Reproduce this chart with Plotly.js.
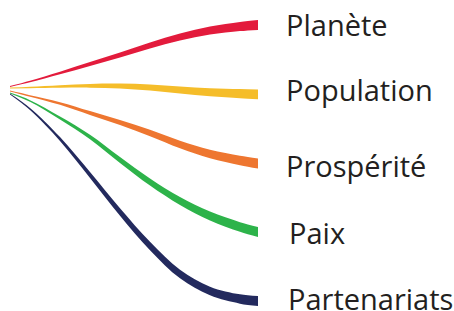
<!DOCTYPE html>
<html>
<head>
<meta charset="utf-8">
<script src="https://cdn.plot.ly/plotly-3.0.1.min.js"></script>
<style>html,body{margin:0;padding:0;background:#fff;}#chart{width:454px;height:311px;}</style>
</head>
<body>
<div id="chart"></div>
<script>
// ---- data ----
const categories = ['Planète', 'Population', 'Prospérité', 'Paix', 'Partenariats'];
const xSamples = [10, 30, 60, 90, 120, 150, 180, 210, 240, 258];
const planete      = [86.5, 81.5, 73, 64, 55, 45.5, 37, 30.5, 26.5, 25];
const population   = [88, 87.5, 86.5, 85.8, 86, 87.5, 90, 92.3, 93.7, 94.3];
const prosperite   = [91, 96, 103.5, 113, 122.5, 133, 144.5, 154, 160.5, 163.5];
const paix         = [93, 101, 118, 137, 160, 182, 201, 216, 227, 232];
const partenariats = [94, 109, 139, 175, 212, 246, 274, 291, 299, 301];

// ---- styles ----
const series = [planete, population, prosperite, paix, partenariats];
const colors = ['#e31b3c', '#f5bd2a', '#ee7630', '#2db34a', '#232a5e'];
const wStart = 0.8, wEnd = 9.8;

const traces = [];
series.forEach((ys, i) => {
  const n = xSamples.length;
  const x0 = xSamples[0], x1 = xSamples[n - 1];
  const up = [], lo = [];
  for (let j = 0; j < n; j++) {
    const a = Math.max(0, j - 1), b = Math.min(n - 1, j + 1);
    const s = (ys[b] - ys[a]) / (xSamples[b] - xSamples[a]);
    const hw = (wStart + (wEnd - wStart) * (xSamples[j] - x0) / (x1 - x0)) / 2;
    const d = hw * Math.sqrt(1 + s * s);
    up.push(ys[j] - d);
    lo.push(ys[j] + d);
  }
  traces.push({x: xSamples, y: up, mode: 'lines', line: {width: 0, shape: 'spline', color: colors[i]},
               hoverinfo: 'skip', showlegend: false});
  traces.push({x: xSamples, y: lo, mode: 'lines', fill: 'tonexty', fillcolor: colors[i],
               line: {width: 0, shape: 'spline', color: colors[i]}, name: categories[i],
               hoverinfo: 'skip', showlegend: false});
});

const labelX = [284, 284, 284, 287, 286];
const labelY = [24, 89, 165, 232, 298];
const annotations = categories.map((c, i) => ({
  x: labelX[i], y: labelY[i], xref: 'x', yref: 'y', text: c, showarrow: false,
  xanchor: 'left', yanchor: 'middle',
  font: {family: 'Open Sans', size: 29, color: '#231f20'}
}));

const layout = {
  width: 454, height: 311,
  margin: {l: 0, r: 0, t: 0, b: 0},
  paper_bgcolor: '#ffffff', plot_bgcolor: '#ffffff',
  xaxis: {range: [0, 454], visible: false, fixedrange: true},
  yaxis: {range: [311, 0], visible: false, fixedrange: true},
  annotations: annotations,
  showlegend: false
};

Plotly.newPlot('chart', traces, layout, {staticPlot: true, displayModeBar: false});
</script>
</body>
</html>
